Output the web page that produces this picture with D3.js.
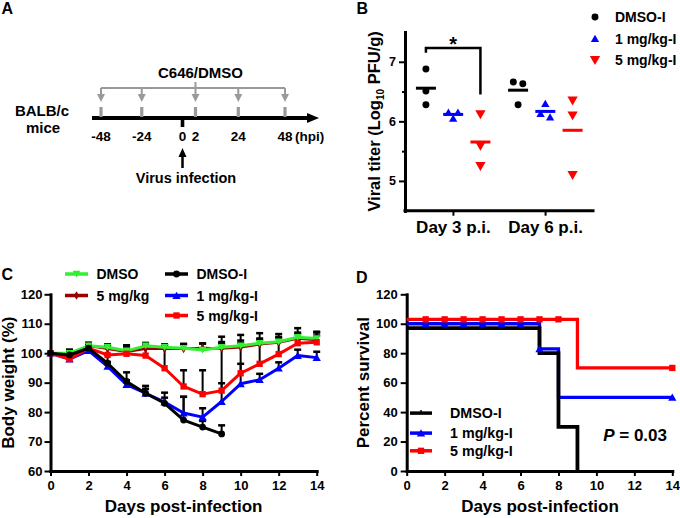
<!DOCTYPE html>
<html><head><meta charset="utf-8">
<script src="https://cdn.jsdelivr.net/npm/d3@7"></script>
<style>
html,body{margin:0;padding:0;background:#fff;}
svg{display:block;font-family:"Liberation Sans",Arial,Helvetica,sans-serif;font-weight:bold;}
</style></head><body>
<svg id="fig" width="680" height="518"></svg>
<script>
// ================= DATA =================
// Panel A: schedule (hours post-infection)
const treatTimes = [-48, -24, 2, 24, 48];
const infectTime = 0;
const hpiTicks = [-48, -24, 0, 2, 24, 48];

// Panel B: viral titer (log10 PFU/g)
const titerDays = ["Day 3 p.i.", "Day 6 p.i."];
const titerGroups = ["DMSO-I", "1 mg/kg-I", "5 mg/kg-I"];
const titerDMSO = [[6.88, 6.51, 6.28], [6.66, 6.63, 6.28]];
const titer1mg  = [[6.15, 6.15, 6.05], [6.30, 6.07, 6.13]];
const titer5mg  = [[6.12, 5.59, 5.25], [6.35, 6.10, 5.10]];
const titerTicks = [5, 6, 7];
const titerMinorTicks = [5.5, 6.5];
const sigPairs = [{day: "Day 3 p.i.", from: "DMSO-I", to: "5 mg/kg-I", label: "*", top: 7.23, fromEnd: 7.15, toEnd: 6.45}];

// Panel C: body weight (%)
const weightDays = [0, 1, 2, 3, 4, 5, 6, 7, 8, 9, 10, 11, 12, 13, 14];
const wDMSO   = [100, 100, 102.5, 102, 100.8, 102.5, 102, 101.7, 101.1, 102, 102.5, 103.4, 103.9, 105.4, 105];
const eDMSO   = [0, 1.2, 1, 1, 1.9, 1, 1, 1.5, 2.2, 1.8, 1.8, 1.6, 1.6, 1.6, 2];
const w5mg    = [100, 99.5, 102.5, 101.5, 100.5, 101.5, 101.5, 101.5, 101.8, 101.6, 102, 103, 103.6, 105, 104.5];
const e5mg    = [0, 1, 1, 1, 1.5, 1, 1.2, 1.5, 1.5, 1.5, 1.5, 1.5, 1.5, 1.5, 1.5];
const wDMSOI  = [100, 99.4, 101.7, 96.6, 90.4, 86.4, 83, 77.3, 74.9, 72.6];
const eDMSOI  = [0, 1.7, 1.7, 2.9, 3.1, 2.5, 3.6, 7.9, 2.1, 2.9];
const w1mgI   = [100, 98, 100.9, 95.5, 89.3, 86.4, 83.4, 79.7, 78.3, 83.6, 89.6, 91, 94.9, 99.2, 98.5];
const e1mgI   = [0, 1.5, 1, 1.5, 1.5, 1.5, 1.5, 5.5, 3, 6.2, 6.8, 2, 2, 2, 2];
const w5mgI   = [100, 98, 101.7, 99.4, 99.8, 99.2, 94.9, 88.7, 86.1, 87.3, 93.2, 96.4, 99.7, 103.4, 103.7];
const e5mgI   = [0, 1, 1.5, 3.2, 2.4, 3.3, 7.7, 5.5, 8.1, 18.3, 13, 10.4, 6.8, 5.1, 3.6];
const weightTicksY = [60, 70, 80, 90, 100, 110, 120];
const dayTicks = [0, 2, 4, 6, 8, 10, 12, 14];

// Panel D: percent survival (as plotted)
const survDaysDMSOI = [0, 7, 8, 9];
const survPctDMSOI  = [97, 80, 30, 0];
const survDays1mg   = [0, 7, 8, 14];
const survPct1mg    = [100, 83, 50, 50];
const survDays5mg   = [0, 9, 14];
const survPct5mg    = [103, 70, 70];
const censor1mg = [1, 2, 3, 4, 5, 6, 7, 14];
const censor5mg = [1, 2, 3, 4, 5, 6, 7, 8, 14];
const survTicksY = [0, 20, 40, 60, 80, 100, 120];
const pValueText = "0.03";

// ================= DRAWING =================
const svg = d3.select("#fig");
const RED = "#ff0000", BLUE = "#0000ff", GREEN = "#33ee33", DRED = "#990000", BLACK = "#000";

function sym(type, size) {
  const map = {circle: d3.symbolCircle, tri: d3.symbolTriangle, triDown: d3.symbolTriangle,
               square: d3.symbolSquare, diamond: d3.symbolDiamond};
  return d3.symbol().type(map[type]).size(size)();
}
function drawSym(g, type, size, x, y, color) {
  const rot = type === "triDown" ? 180 : 0;
  const dy = type === "tri" ? 1 : (type === "triDown" ? -1 : 0);
  g.append("path").attr("d", sym(type, size))
    .attr("transform", `translate(${x},${y + dy}) rotate(${rot})`)
    .attr("fill", color).attr("stroke", "none");
}
function styleAxis(g, fs, dw) {
  g.select(".domain").attr("stroke", "#000").attr("stroke-width", dw).attr("stroke-linecap", "square");
  g.selectAll(".tick line").attr("stroke", "#000").attr("stroke-width", 2);
  g.selectAll(".tick text").attr("fill", "#000").attr("font-size", fs)
    .attr("font-family", '"Liberation Sans", Arial, sans-serif').attr("font-weight", "bold");
}
function label(txt, x, y, fs, anchor) {
  return svg.append("text").attr("x", x).attr("y", y).attr("font-size", fs)
    .attr("text-anchor", anchor || "start").attr("fill", "#000").text(txt);
}

// Panel letters
label("A", 1.5, 13.5, 16);
label("B", 356.5, 13.5, 16);
label("C", 1.5, 280, 16);
label("D", 356, 283, 16);

// ---------- Panel A ----------
(function () {
  const g = svg.append("g");
  const hx = d3.scaleLinear().domain([-48, 0, 2, 48]).range([101, 182.5, 195.5, 285]);
  const ay = 118, gray = "#9a9a9a";
  g.append("line").attr("x1", 92).attr("x2", 309).attr("y1", ay).attr("y2", ay)
    .attr("stroke", "#000").attr("stroke-width", 4);
  g.append("path").attr("d", `M307,${ay - 5}L319,${ay}L307,${ay + 5}Z`).attr("fill", "#000");
  const bY = 88;
  g.append("line").attr("x1", hx(d3.min(treatTimes))).attr("x2", hx(d3.max(treatTimes)))
    .attr("y1", bY).attr("y2", bY).attr("stroke", gray).attr("stroke-width", 2);
  g.append("line").attr("x1", hx(2)).attr("x2", hx(2)).attr("y1", 82).attr("y2", bY)
    .attr("stroke", gray).attr("stroke-width", 2);
  treatTimes.forEach(t => {
    const x = hx(t);
    g.append("line").attr("x1", x).attr("x2", x).attr("y1", bY).attr("y2", 95)
      .attr("stroke", gray).attr("stroke-width", 2);
    g.append("path").attr("d", `M${x - 4},94L${x + 4},94L${x},102Z`).attr("fill", gray);
    g.append("rect").attr("x", x - 1.6).attr("y", 107).attr("width", 3.2).attr("height", 10)
      .attr("fill", gray);
  });
  const ix = hx(infectTime);
  g.append("rect").attr("x", ix - 1.8).attr("y", ay).attr("width", 3.6).attr("height", 9).attr("fill", "#000");
  g.append("line").attr("x1", ix).attr("x2", ix).attr("y1", 168).attr("y2", 154)
    .attr("stroke", "#000").attr("stroke-width", 2.5);
  g.append("path").attr("d", `M${ix - 4},157L${ix},148L${ix + 4},157Z`).attr("fill", "#000");
  hpiTicks.forEach(t => {
    g.append("text").attr("x", hx(t)).attr("y", 141).attr("font-size", 13.5)
      .attr("text-anchor", "middle").text(String(t));
  });
  g.append("text").attr("x", 295).attr("y", 141).attr("font-size", 13.5).text("(hpi)");
  g.append("text").attr("x", 200.5).attr("y", 77.5).attr("font-size", 15).attr("text-anchor", "middle").text("C646/DMSO");
  g.append("text").attr("x", 42).attr("y", 115.5).attr("font-size", 15).attr("text-anchor", "middle").text("BALB/c");
  g.append("text").attr("x", 43).attr("y", 132.5).attr("font-size", 15).attr("text-anchor", "middle").text("mice");
  g.append("text").attr("x", 186).attr("y", 182.5).attr("font-size", 14.5).attr("text-anchor", "middle").text("Virus infection");
})();

// ---------- Panel B ----------
(function () {
  const g = svg.append("g");
  const by = d3.scaleLinear().domain([4.5, 7.5]).range([210.7, 32]);
  const bxDay = d3.scalePoint().domain(titerDays).range([405, 593]).padding(0.52);
  const bxGrp = d3.scalePoint().domain(titerGroups).range([-27, 27.5]);
  const series = [
    {name: titerGroups[0], data: titerDMSO, color: BLACK, type: "circle", size: 38},
    {name: titerGroups[1], data: titer1mg, color: BLUE, type: "tri", size: 30},
    {name: titerGroups[2], data: titer5mg, color: RED, type: "triDown", size: 46}
  ];
  const yA = g.append("g").attr("transform", "translate(405,0)")
    .call(d3.axisLeft(by).tickValues(titerTicks).tickFormat(d3.format("d")).tickSize(6).tickPadding(3).tickSizeOuter(0));
  styleAxis(yA, 12.5, 3);
  const yM = g.append("g").attr("transform", "translate(405,0)")
    .call(d3.axisLeft(by).tickValues(titerMinorTicks).tickFormat("").tickSize(3).tickSizeOuter(0));
  styleAxis(yM, 12, 3);
  const xA = g.append("g").attr("transform", "translate(0,210.7)")
    .call(d3.axisBottom(bxDay).tickSize(5).tickPadding(5.5).tickSizeOuter(0));
  styleAxis(xA, 17, 3);
  xA.select(".domain").attr("d", "M405,0H593");

  series.forEach(s => {
    titerDays.forEach((day, di) => {
      const cx = bxDay(day) + bxGrp(s.name);
      const vals = s.data[di].slice().sort((a, b) => b - a);
      const rows = [];
      vals.forEach(v => {
        const last = rows[rows.length - 1];
        if (last && Math.abs(by(v) - by(last[0])) < 4.5) last.push(v); else rows.push([v]);
      });
      rows.forEach(r => r.forEach((v, i) => {
        drawSym(g, s.type, s.size, cx + (i - (r.length - 1) / 2) * 9.5, by(v), s.color);
      }));
      const m = d3.mean(s.data[di]);
      g.append("line").attr("x1", cx - 10).attr("x2", cx + 10).attr("y1", by(m)).attr("y2", by(m))
        .attr("stroke", s.color).attr("stroke-width", 3);
    });
  });
  sigPairs.forEach(p => {
    const x1 = bxDay(p.day) + bxGrp(p.from), x2 = bxDay(p.day) + bxGrp(p.to);
    g.append("path").attr("d", `M${x1},${by(p.fromEnd)}V${by(p.top)}H${x2}V${by(p.toEnd)}`)
      .attr("fill", "none").attr("stroke", "#000").attr("stroke-width", 2.5);
    g.append("text").attr("x", (x1 + x2) / 2).attr("y", by(p.top) + 2.5).attr("font-size", 20)
      .attr("text-anchor", "middle").text(p.label);
  });
  const yl = g.append("text").attr("transform", "translate(380,121.4) rotate(-90)")
    .attr("text-anchor", "middle").attr("font-size", 16.5);
  yl.append("tspan").text("Viral titer (Log");
  yl.append("tspan").attr("font-size", 10).attr("dy", 4).text("10");
  yl.append("tspan").attr("dy", -4).text(" PFU/g)");
  series.forEach((s, i) => {
    const base = [22, 43.5, 65][i];
    drawSym(g, s.type, s.size, 595, base - 5, s.color);
    g.append("text").attr("x", 615).attr("y", base).attr("font-size", 14).text(s.name);
  });
})();

// ---------- Panel C ----------
(function () {
  const g = svg.append("g");
  const x = d3.scaleLinear().domain([0, 14]).range([50.5, 316.7]);
  const y = d3.scaleLinear().domain([60, 120]).range([471, 294.3]);
  const yA = g.append("g").attr("transform", "translate(50.5,0)")
    .call(d3.axisLeft(y).tickValues(weightTicksY).tickSize(6).tickPadding(2).tickSizeOuter(0));
  styleAxis(yA, 13, 3);
  const xA = g.append("g").attr("transform", "translate(0,471)")
    .call(d3.axisBottom(x).tickValues(dayTicks).tickSize(5).tickPadding(5).tickSizeOuter(0));
  styleAxis(xA, 13, 3);

  const series = [
    {name: "5 mg/kg", v: w5mg, e: e5mg, color: DRED, type: "diamond", size: 22, lw: 2.5},
    {name: "DMSO", v: wDMSO, e: eDMSO, color: GREEN, type: "triDown", size: 26, lw: 3},
    {name: "1 mg/kg-I", v: w1mgI, e: e1mgI, color: BLUE, type: "tri", size: 30, lw: 3},
    {name: "5 mg/kg-I", v: w5mgI, e: e5mgI, color: RED, type: "square", size: 40, lw: 3},
    {name: "DMSO-I", v: wDMSOI, e: eDMSOI, color: BLACK, type: "circle", size: 36, lw: 3}
  ];
  series.forEach(s => {
    s.v.forEach((v, i) => {
      if (!s.e[i]) return;
      const xx = x(weightDays[i]), y0 = y(v), y1 = y(v + s.e[i]);
      g.append("line").attr("x1", xx).attr("x2", xx).attr("y1", y0).attr("y2", y1)
        .attr("stroke", "#000").attr("stroke-width", 2);
      g.append("line").attr("x1", xx - 3.5).attr("x2", xx + 3.5).attr("y1", y1).attr("y2", y1)
        .attr("stroke", "#000").attr("stroke-width", 2.5);
    });
  });
  const line = d3.line().x((d, i) => x(weightDays[i])).y(d => y(d));
  series.forEach(s => {
    g.append("path").attr("d", line(s.v)).attr("fill", "none").attr("stroke", s.color)
      .attr("stroke-width", s.lw).attr("stroke-linejoin", "round");
    s.v.forEach((v, i) => drawSym(g, s.type, s.size, x(weightDays[i]), y(v), s.color));
  });
  g.append("text").attr("x", 183.6).attr("y", 512).attr("font-size", 17).attr("text-anchor", "middle").text("Days post-infection");
  g.append("text").attr("transform", "translate(14,382.7) rotate(-90)").attr("font-size", 17)
    .attr("text-anchor", "middle").text("Body weight (%)");
  const leg = [
    {s: series[1], x: 65, base: 279}, {s: series[0], x: 65, base: 300.5},
    {s: series[4], x: 165, base: 279}, {s: series[2], x: 165, base: 300.5}, {s: series[3], x: 165, base: 320.5}
  ];
  leg.forEach(l => {
    const ly = l.base - 5;
    g.append("line").attr("x1", l.x).attr("x2", l.x + 23).attr("y1", ly).attr("y2", ly)
      .attr("stroke", l.s.color).attr("stroke-width", 3.5);
    drawSym(g, l.s.type, l.s.size, l.x + 11.5, ly, l.s.color);
    g.append("text").attr("x", l.x + 31.5).attr("y", l.base).attr("font-size", 14).text(l.s.name);
  });
})();

// ---------- Panel D ----------
(function () {
  const g = svg.append("g");
  const x = d3.scaleLinear().domain([0, 14]).range([406.7, 672.3]);
  const y = d3.scaleLinear().domain([0, 120]).range([471, 294.3]);
  const yA = g.append("g").attr("transform", "translate(406.7,0)")
    .call(d3.axisLeft(y).tickValues(survTicksY).tickSize(6).tickPadding(3).tickSizeOuter(0));
  styleAxis(yA, 13, 3);
  const xA = g.append("g").attr("transform", "translate(0,471)")
    .call(d3.axisBottom(x).tickValues(dayTicks).tickSize(5).tickPadding(5).tickSizeOuter(0));
  styleAxis(xA, 13, 3);

  const series = [
    {name: "DMSO-I", days: survDaysDMSOI, pct: survPctDMSOI, color: BLACK, type: null, lw: 3.8, censor: []},
    {name: "1 mg/kg-I", days: survDays1mg, pct: survPct1mg, color: BLUE, type: "tri", size: 30, lw: 3.3, censor: censor1mg},
    {name: "5 mg/kg-I", days: survDays5mg, pct: survPct5mg, color: RED, type: "square", size: 40, lw: 3.3, censor: censor5mg}
  ];
  const step = d3.line().curve(d3.curveStepAfter).x(d => x(d[0])).y(d => y(d[1]));
  const valAt = (s, t) => { let v = s.pct[0]; s.days.forEach((d, i) => { if (d <= t) v = s.pct[i]; }); return v; };
  [series[2], series[1], series[0]].forEach(s => {
    g.append("path").attr("d", step(s.days.map((d, i) => [d, s.pct[i]])))
      .attr("fill", "none").attr("stroke", s.color).attr("stroke-width", s.lw).attr("stroke-linecap", "butt");
  });
  [series[1], series[2]].forEach(s => {
    s.censor.forEach(t => drawSym(g, s.type, s.size, x(t), y(valAt(s, t)), s.color));
  });
  g.append("text").attr("x", 540).attr("y", 512).attr("font-size", 17).attr("text-anchor", "middle").text("Days post-infection");
  g.append("text").attr("transform", "translate(369,382.7) rotate(-90)").attr("font-size", 17)
    .attr("text-anchor", "middle").text("Percent survival");
  const bases = [418.3, 438.3, 456];
  series.forEach((s, i) => {
    const ly = bases[i] - 5.2;
    g.append("line").attr("x1", 410).attr("x2", 432).attr("y1", ly).attr("y2", ly)
      .attr("stroke", s.color).attr("stroke-width", 3.5);
    if (s.type) drawSym(g, s.type, s.size, 421, ly, s.color);
    else g.append("line").attr("x1", 421).attr("x2", 421).attr("y1", ly - 3).attr("y2", ly)
      .attr("stroke", "#000").attr("stroke-width", 1.5);
    g.append("text").attr("x", 450).attr("y", bases[i]).attr("font-size", 14.3).text(s.name);
  });
  const pt = g.append("text").attr("x", 667).attr("y", 441).attr("font-size", 17).attr("text-anchor", "end");
  pt.append("tspan").attr("font-style", "italic").text("P");
  pt.append("tspan").text(" = " + pValueText);
})();
</script>
</body></html>
